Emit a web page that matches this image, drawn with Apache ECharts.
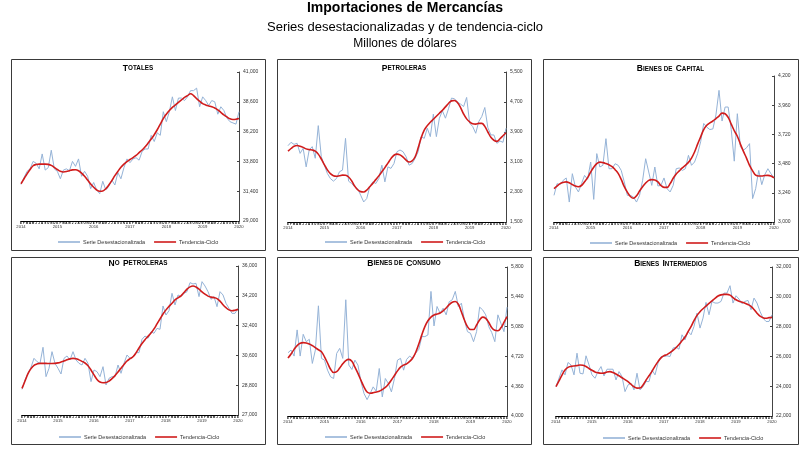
<!DOCTYPE html>
<html><head><meta charset="utf-8">
<script src="https://cdn.jsdelivr.net/npm/echarts@6/dist/echarts.min.js"></script>
<style>html,body{margin:0;padding:0;background:#fff}#c{width:809px;height:453px}</style>
</head><body><div id="c"></div>
<script>
// ---------- DATA ----------
const monthInitials = ['E','F','M','A','M','J','J','A','S','O','N','D'];
const years = ['2014','2015','2016','2017','2018','2019','2020'];
const categories = [];
years.forEach(y => monthInitials.forEach((m, i) => { if (categories.length < 73) categories.push(y + '-' + (i + 1)); }));

const seriesNames = ['Serie Desestacionalizada', 'Tendencia-Ciclo'];

const totalesTicks = [29000, 31400, 33800, 36200, 38600, 41000];
const totalesSA = [31950,32500,33000,33200,33800,33650,33200,34400,33100,33300,
 34700,33200,33000,32400,33100,33200,33050,33800,33400,34000,
 32600,33000,32600,31600,32100,31500,31200,32200,31500,31800,
 32300,31900,32900,32400,33300,34000,33700,34000,34100,33900,
 34600,34800,34800,35900,35400,36100,35900,37800,37000,37800,
 39000,37900,38900,38900,38700,39000,39500,39500,39700,38200,
 39000,38700,38300,38700,38600,37600,38200,37900,37300,37000,
 36900,36800,37800];
const totalesTC = [32000,32400,32800,33150,33450,33550,33580,33580,33580,33560,
 33480,33320,33150,33000,32950,32980,33050,33120,33130,33050,
 32850,32600,32300,31980,31720,31500,31400,31420,31600,31900,
 32250,32650,33000,33320,33580,33780,33950,34100,34280,34500,
 34720,34980,35280,35600,35950,36350,36800,37250,37600,37900,
 38150,38350,38550,38750,38950,39100,39250,39100,38850,38650,
 38450,38350,38270,38200,38100,37950,37750,37550,37380,37230,
 37180,37200,37250];

const petrolerasTicks = [1500, 2300, 3100, 3900, 4700, 5500];
const petrolerasSA = [3535,3625,3570,3600,3330,3465,2970,3420,3510,3200,
 4070,3240,3015,2795,2660,2590,2660,2840,2885,3730,
 2590,2527,2440,2390,2215,2035,2125,2440,2570,2527,
 2660,3015,2570,2970,2930,3060,3375,3420,3375,3240,
 3015,3060,3200,3375,3777,3730,4000,3777,4375,3777,
 4268,4465,4268,4518,4804,4786,4696,4643,4580,4822,
 4134,4045,3866,4178,4312,4553,4018,3821,3821,3598,
 3660,3625,4000];
const petrolerasTC = [3390,3460,3520,3540,3520,3490,3450,3430,3420,3390,
 3310,3180,3030,2890,2790,2735,2720,2735,2750,2745,
 2700,2600,2460,2360,2310,2300,2350,2440,2530,2630,
 2730,2840,2950,3070,3190,3280,3310,3290,3230,3150,
 3100,3130,3240,3480,3750,3950,4070,4160,4240,4320,
 4400,4480,4570,4660,4730,4740,4680,4550,4380,4250,
 4170,4120,4110,4130,4130,4050,3900,3760,3680,3650,
 3720,3800,3880];

const capitalTicks = [3000, 3240, 3480, 3720, 3960, 4200];
const capitalSA = [3219,3315,3307,3342,3362,3164,3397,3288,3247,3315,
 3383,3351,3493,3186,3562,3452,3466,3685,3438,3438,
 3479,3466,3424,3329,3219,3219,3205,3164,3219,3342,
 3520,3411,3301,3452,3296,3301,3362,3274,3247,3301,
 3438,3444,3424,3438,3548,3466,3493,3562,3660,3810,
 3780,3760,3765,3880,4082,3830,3945,3945,3760,3500,
 3890,3620,3590,3610,3644,3192,3274,3424,3307,3390,
 3438,3397,3362];
const capitalTC = [3275,3295,3315,3325,3330,3322,3308,3295,3290,3300,
 3330,3365,3410,3450,3480,3492,3488,3480,3470,3455,
 3430,3400,3350,3290,3245,3210,3195,3215,3255,3290,
 3320,3342,3348,3345,3330,3300,3285,3285,3315,3360,
 3395,3420,3445,3465,3490,3525,3575,3640,3700,3760,
 3795,3815,3830,3850,3870,3895,3890,3860,3805,3750,
 3705,3640,3580,3525,3465,3420,3385,3378,3378,3382,
 3383,3378,3362];

const noPetrolerasTicks = [27000, 28800, 30600, 32400, 34200, 36000];
const noPetrolerasSA = [28550,29115,29520,29880,30424,30222,30120,31090,29317,29820,
 30826,30120,29820,29477,30424,30565,30323,30826,30323,30120,
 30020,30424,30120,29015,29720,29618,29317,29920,28814,29216,
 29317,29317,30020,29518,30120,30624,30424,30525,30766,30766,
 31570,31772,31632,32035,31934,32236,32175,33584,33040,33303,
 34350,33645,34250,34150,34350,34450,34994,34913,34953,34150,
 35054,34792,34450,33987,34150,33544,34450,34250,33746,33444,
 33141,33141,33444];
const noPetrolerasTC = [28610,29050,29500,29800,30000,30080,30120,30120,30120,30110,
 30110,30120,30150,30200,30260,30330,30390,30420,30400,30330,
 30240,30140,29980,29720,29420,29150,28990,28950,28960,29050,
 29200,29380,29600,29820,30050,30260,30400,30520,30750,31050,
 31320,31550,31750,31950,32200,32500,32800,33100,33350,33560,
 33750,33950,34080,34200,34400,34600,34740,34790,34730,34600,
 34440,34300,34180,34120,34090,34030,33880,33660,33480,33350,
 33300,33330,33380];

const consumoTicks = [4000, 4360, 4720, 5080, 5440, 5800];
const consumoSA = [4764,4797,4724,5040,4724,4987,4898,4926,4635,4797,
 5331,4696,4675,4554,4473,4453,4756,4817,4696,5404,
 4615,4562,4675,4615,4413,4271,4198,4271,4352,4300,
 4574,4231,4453,4392,4291,4453,4675,4696,4554,4684,
 4724,4696,4760,4805,4959,4959,4979,5505,5088,5323,
 5242,5302,5222,5380,5404,5505,5323,5363,5161,5019,
 4999,4898,5019,5315,5282,5222,5080,5007,4898,5222,
 5120,5019,5315];
const consumoTC = [4700,4750,4805,4850,4878,4887,4882,4870,4850,4825,
 4800,4775,4715,4640,4565,4525,4535,4580,4630,4670,
 4684,4660,4590,4515,4430,4350,4290,4275,4280,4290,
 4300,4320,4345,4385,4435,4490,4545,4590,4615,4630,
 4660,4700,4770,4870,4980,5080,5150,5195,5220,5232,
 5245,5270,5305,5345,5375,5383,5350,5260,5160,5080,
 5045,5045,5100,5160,5195,5180,5130,5065,5035,5030,
 5065,5130,5200];

const intermediosTicks = [22000, 24000, 26000, 28000, 30000, 32000];
const intermediosSA = [23970,24535,25095,24760,25590,25430,24760,26215,24870,24825,
 26040,25430,24760,24535,24983,25320,24690,25140,25140,25140,
 24420,24983,24646,23637,24085,24200,23750,24870,23750,23973,
 24310,24310,25095,24760,25545,25990,25990,26040,25990,26555,
 26620,26485,27450,27110,27673,27450,28010,28905,27900,28570,
 29624,28795,29690,29580,29580,29690,30250,30250,30745,29580,
 30070,29850,29535,29690,29760,29130,29915,29580,29020,28570,
 28345,28345,28795];
const intermediosTC = [23970,24350,24750,25080,25260,25330,25360,25380,25420,25400,
 25320,25190,25070,24960,24900,24870,24880,24950,24980,24920,
 24820,24700,24570,24440,24300,24130,23960,23870,23880,24080,
 24400,24700,25000,25350,25650,25900,26050,26120,26250,26400,
 26580,26800,27050,27300,27650,28000,28400,28750,29000,29200,
 29380,29560,29720,29900,30050,30130,30160,30160,30110,29950,
 29800,29700,29640,29570,29480,29360,29150,28900,28700,28600,
 28560,28600,28620];

// ---------- LAYOUT / STYLE ----------
const FONT = '"Liberation Sans", Arial, sans-serif';
const BLUE = '#95b3d7', RED = '#d01c1c';
const panels = [
  {title:'{b|T}{s|OTALES}', sa:totalesSA, tc:totalesTC, ticks:totalesTicks,
   box:[11,59,254,191], grid:[21,72,218,149], titleY:68.5, legend:[58,239]},
  {title:'{b|P}{s|ETROLERAS}', sa:petrolerasSA, tc:petrolerasTC, ticks:petrolerasTicks,
   box:[277,59,254,191], grid:[288,72,218,150], titleY:68.5, legend:[325,239]},
  {title:'{b|B}{s|IENES DE} {b|C}{s|APITAL}', sa:capitalSA, tc:capitalTC, ticks:capitalTicks,
   box:[543,59,255,191], grid:[554,76,220,146], titleY:69, legend:[590,240]},
  {title:'{b|N}{s|O} {b|P}{s|ETROLERAS}', sa:noPetrolerasSA, tc:noPetrolerasTC, ticks:noPetrolerasTicks,
   box:[11,257,254,187], grid:[22,266,216,149], titleY:263.5, legend:[59,434]},
  {title:'{b|B}{s|IENES DE} {b|C}{s|ONSUMO}', sa:consumoSA, tc:consumoTC, ticks:consumoTicks,
   box:[277,257,254,187], grid:[288,267,219,149], titleY:263.5, legend:[325,434]},
  {title:'{b|B}{s|IENES} {b|I}{s|NTERMEDIOS}', sa:intermediosSA, tc:intermediosTC, ticks:intermediosTicks,
   box:[543,257,255,187], grid:[556,267,216,149], titleY:264, legend:[603,435]}
];

const grid = [], xAxis = [], yAxis = [], series = [], legend = [], graphic = [];

graphic.push({type:'text', x:405, y:8.5, style:{text:'Importaciones de Mercancías', font:'bold 14px ' + FONT, fill:'#000', align:'center', verticalAlign:'middle'}});
graphic.push({type:'text', x:405, y:27.5, style:{text:'Series desestacionalizadas y de tendencia-ciclo', font:'13px ' + FONT, fill:'#000', align:'center', verticalAlign:'middle'}});
graphic.push({type:'text', x:405, y:44, style:{text:'Millones de dólares', font:'12px ' + FONT, fill:'#000', align:'center', verticalAlign:'middle'}});

panels.forEach((p, i) => {
  graphic.push({type:'rect', shape:{x:p.box[0]+0.5, y:p.box[1]+0.5, width:p.box[2], height:p.box[3]},
    style:{fill:'none', stroke:'#3a3a3a', lineWidth:1}, z:0});
  graphic.push({type:'text', x:p.box[0] + p.box[2]/2, y:p.titleY,
    style:{text:p.title, align:'center', verticalAlign:'middle', fill:'#000',
      rich:{b:{fontSize:8.5, fontWeight:'bold', fontFamily:FONT, fill:'#000'},
            s:{fontSize:6.3, fontWeight:'bold', fontFamily:FONT, fill:'#000'}}}});
  grid.push({left:p.grid[0], top:p.grid[1], width:p.grid[2], height:p.grid[3], containLabel:false});
  xAxis.push({
    type:'category', gridIndex:i, data:categories, boundaryGap:false,
    axisLine:{show:true, lineStyle:{color:'#000', width:1}},
    axisTick:{show:false},
    axisLabel:{show:true, interval:0, margin:0, color:'#000',
      formatter:(v, idx) => {
        const m = monthInitials[idx % 12];
        return idx % 12 === 0 ? '{m|' + m + '}\n{y|' + years[idx / 12] + '}' : '{m|' + m + '}';
      },
      rich:{m:{fontSize:3, lineHeight:3.5, fontWeight:'bold', fontFamily:FONT, color:'#000'},
            y:{fontSize:4.2, lineHeight:5, fontFamily:FONT, color:'#333'}}},
    splitLine:{show:false}
  });
  yAxis.push({
    type:'value', gridIndex:i, position:'right',
    min:p.ticks[0], max:p.ticks[p.ticks.length-1], interval:p.ticks[1]-p.ticks[0],
    axisLine:{show:true, lineStyle:{color:'#444', width:1}},
    axisTick:{show:true, inside:true, length:2, lineStyle:{color:'#444'}},
    axisLabel:{show:true, margin:4, fontSize:5, fontFamily:FONT, color:'#333',
      formatter:v => v.toLocaleString('en-US')},
    splitLine:{show:false}
  });
  series.push({name:seriesNames[0], type:'line', xAxisIndex:i, yAxisIndex:i, data:p.sa,
    symbol:'none', color:BLUE, lineStyle:{color:BLUE, width:1}, z:2, animation:false});
  series.push({name:seriesNames[1], type:'line', xAxisIndex:i, yAxisIndex:i, data:p.tc,
    symbol:'none', smooth:0.4, color:RED, lineStyle:{color:RED, width:1.6}, z:3, animation:false});
  legend.push({data:seriesNames, left:p.legend[0], top:p.legend[1], orient:'horizontal',
    icon:'rect', itemWidth:22, itemHeight:1.6, itemGap:9, selectedMode:false,
    textStyle:{fontSize:5.5, fontFamily:FONT, color:'#333', padding:[0,0,0,-2]}, padding:0});
});

const chart = echarts.init(document.getElementById('c'), null, {renderer:'canvas'});
chart.setOption({animation:false, backgroundColor:'#fff', grid, xAxis, yAxis, series, legend, graphic});
</script>
</body></html>
